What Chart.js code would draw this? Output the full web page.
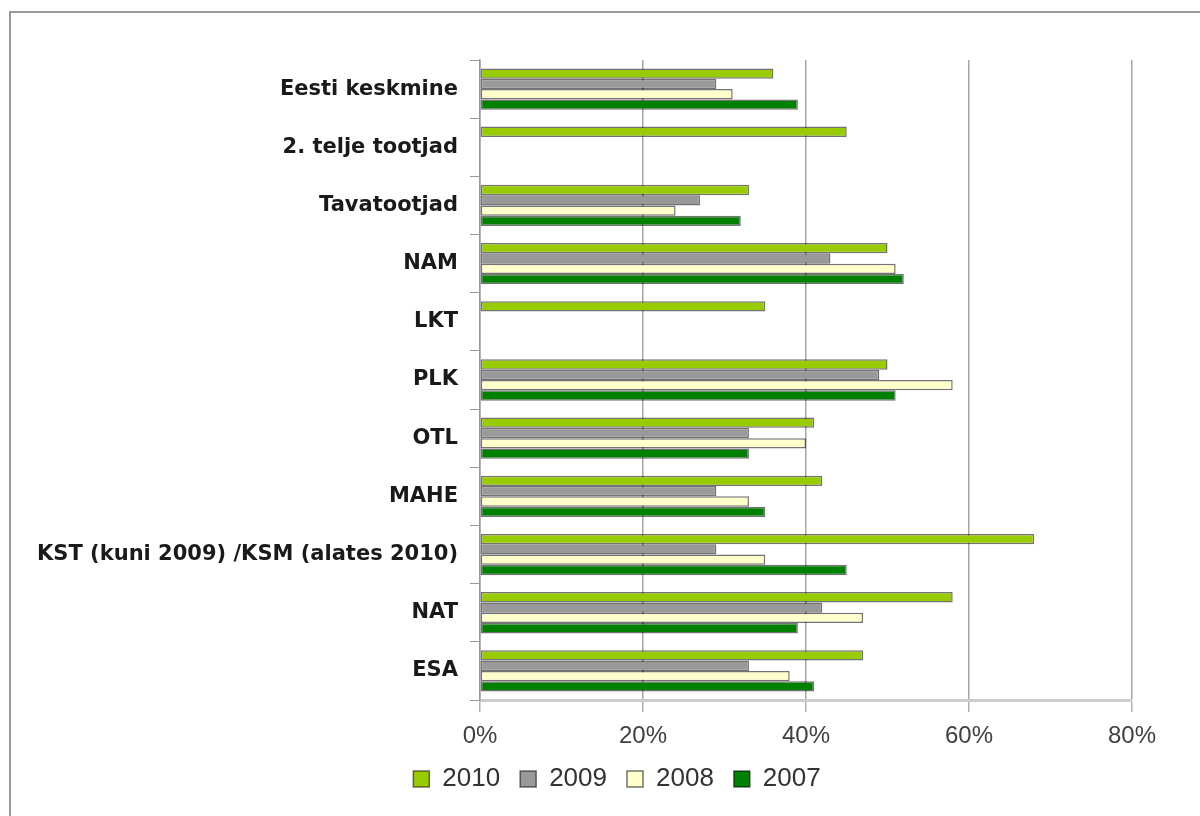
<!DOCTYPE html>
<html>
<head>
<meta charset="utf-8">
<script src="https://cdn.jsdelivr.net/npm/chart.js@4"></script>
<style>
  html, body { margin: 0; padding: 0; background: #fff; }
  #wrap { position: relative; width: 1200px; height: 816px; overflow: hidden; }
  #frame { position: absolute; left: 9px; top: 11px; width: 1300px; height: 900px;
           border-left: 2px solid #9a9a9a; border-top: 2px solid #9a9a9a; }
  canvas { position: absolute; left: 0; top: 0; }
</style>
</head>
<body>
<div id="wrap">
  <div id="frame"></div>
  <canvas id="chart" width="1200" height="816"></canvas>
</div>
<script>
// categories, top to bottom
const labels = [
  'Eesti keskmine', '2. telje tootjad', 'Tavatootjad', 'NAM', 'LKT', 'PLK',
  'OTL', 'MAHE', 'KST (kuni 2009) /KSM (alates 2010)', 'NAT', 'ESA'
]

// values in percent
const y2010 = [36, 45, 33, 50, 35, 50, 41, 42, 68, 58, 47]
const y2009 = [29, null, 27, 43, null, 49, 33, 29, 29, 42, 33]
const y2008 = [31, null, 24, 51, null, 58, 40, 33, 35, 47, 38]
const y2007 = [39, null, 32, 52, null, 51, 33, 35, 45, 39, 41]

const xTicks = [0, 20, 40, 60, 80]

const series = [
  { label: '2010', data: y2010, color: '#99cc00' },
  { label: '2009', data: y2009, color: '#999999' },
  { label: '2008', data: y2008, color: '#ffffcc' },
  { label: '2007', data: y2007, color: '#008000' }
]

// the legend sits a bit right of the chart centre in the original
const shiftLegend = {
  id: 'shiftLegend',
  afterLayout: chart => {
    chart.legend.left += 51
    chart.legend.right += 51
    chart.legend.top -= 14
    chart.legend.bottom -= 14
  }
}

const ctx = document.getElementById('chart').getContext('2d')
new Chart(ctx, {
  type: 'bar',
  data: {
    labels,
    datasets: series.map(({label, data, color}) => ({
      label,
      data,
      backgroundColor: color,
      borderColor: 'rgba(0,0,0,0.55)',
      borderWidth: 1.5,
      borderSkipped: false,
      categoryPercentage: 0.71,
      barPercentage: 1
    }))
  },
  plugins: [shiftLegend],
  options: {
    indexAxis: 'y',
    responsive: false,
    animation: false,
    layout: { padding: { top: 60, right: 68, bottom: 0, left: 0 } },
    plugins: {
      tooltip: { enabled: false },
      legend: {
        position: 'bottom',
        labels: {
          boxWidth: 16,
          boxHeight: 16,
          padding: 20,
          color: '#333',
          font: { family: 'Liberation Sans', size: 26 }
        }
      }
    },
    scales: {
      x: {
        min: 0,
        max: 80,
        afterBuildTicks: scale => { scale.ticks = xTicks.map(v => ({ value: v })) },
        ticks: {
          color: '#404040',
          padding: 12,
          font: { family: 'Liberation Sans', size: 24, lineHeight: 1 },
          callback: v => v + '%'
        },
        grid: {
          color: '#a6a6a6',
          lineWidth: 1.5,
          tickLength: 12,
          tickColor: '#b0b0b0'
        },
        border: { color: '#cccccc', width: 3 }
      },
      y: {
        afterFit: scale => { scale.width = 480 },
        ticks: {
          color: '#1a1a1a',
          padding: 12,
          font: { family: 'DejaVu Sans', size: 21, weight: 'bold' }
        },
        grid: {
          drawOnChartArea: false,
          tickLength: 10,
          tickColor: '#999'
        },
        border: { color: '#999', width: 1.5 }
      }
    }
  }
})
</script>
</body>
</html>
